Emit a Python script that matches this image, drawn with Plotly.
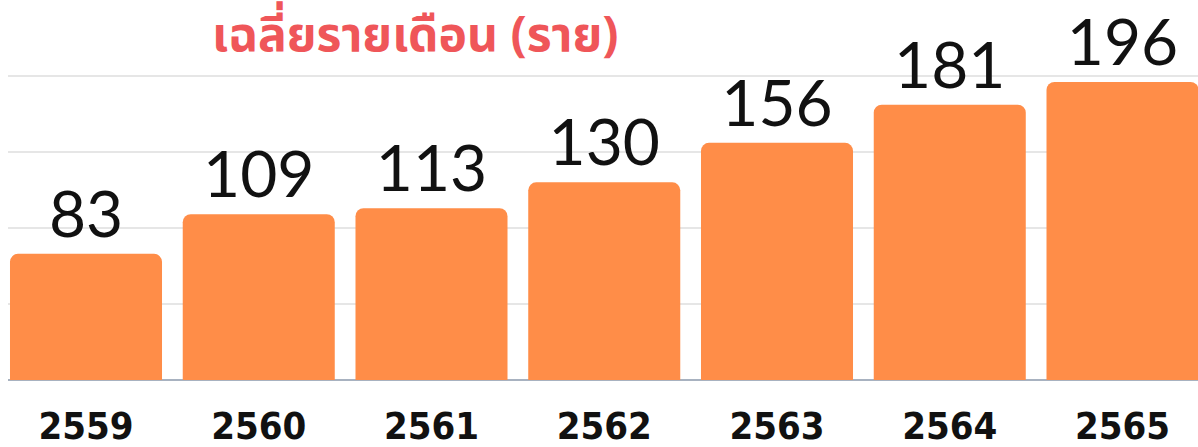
import plotly.graph_objects as go

years = ["2559", "2560", "2561", "2562", "2563", "2564", "2565"]
values = [83, 109, 113, 130, 156, 181, 196]
title_text = "เฉลี่ยรายเดือน (ราย)"

BAR_COLOR = "#FF8D48"
TITLE_COLOR = "#EF5659"

fig = go.Figure()
fig.add_trace(go.Bar(
    x=list(range(len(years))),
    y=values,
    width=0.88,
    marker=dict(color=BAR_COLOR, line=dict(width=0), cornerradius=8),
    text=[str(v) for v in values],
    textposition="outside",
    textfont=dict(family="Lato, Noto Sans, sans-serif", size=64, color="#111111"),
    constraintext="none",
    cliponaxis=False,
    hoverinfo="skip",
))

fig.add_annotation(
    text=title_text, xref="paper", yref="paper",
    x=(415 - 8) / 1190, y=1 - 37 / 380, xanchor="center", yanchor="middle",
    showarrow=False, borderpad=0,
    font=dict(family="Noto Sans Thai, Noto Sans, sans-serif", size=48,
              color=TITLE_COLOR, weight="bold"),
)

fig.update_layout(
    width=1198, height=447,
    margin=dict(l=8, r=0, t=0, b=67, autoexpand=False),
    paper_bgcolor="white", plot_bgcolor="white",
    showlegend=False,
    xaxis=dict(
        range=[-0.4515, 6.437],
        tickmode="array",
        tickvals=list(range(len(years))),
        ticktext=years,
        tickfont=dict(family="Liberation Sans Narrow, DejaVu Sans Condensed, Roboto, sans-serif",
                      size=38, color="#111111", weight="bold"),
        ticklabelstandoff=20,
        automargin=False,
        showgrid=False, zeroline=False, showline=False, ticks="",
        fixedrange=True,
    ),
    yaxis=dict(
        range=[0, 249.9],
        tickvals=[0, 50, 100, 150, 200],
        showticklabels=False,
        automargin=False,
        showgrid=True, gridcolor="#E6E6E6", gridwidth=1.5,
        zeroline=True, zerolinecolor="#A8B2C0", zerolinewidth=1.5,
        fixedrange=True,
    ),
)

fig.write_html("out.html")
